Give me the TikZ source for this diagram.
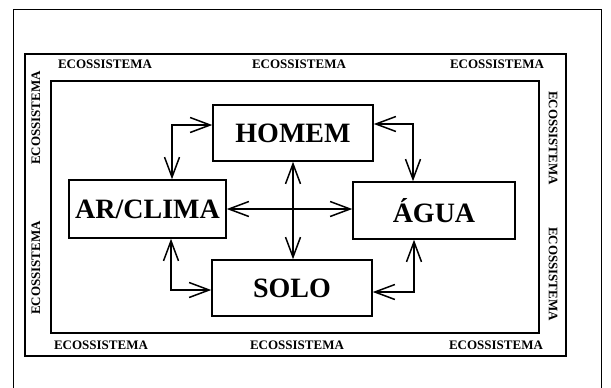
\documentclass[tikz,border=0pt]{standalone}
\usepackage{fontspec}
\setmainfont{Liberation Serif}
\usetikzlibrary{arrows.meta,calc}
\tikzset{
  frame/.style={line width=1.8pt},
  outerframe/.style={line width=0.9pt},
  mainbox/.style={draw, line width=1.5pt, inner sep=0pt, font=\fontsize{28}{32}\selectfont\bfseries},
  eco/.style={inner sep=0pt, font=\fontsize{13}{15}\selectfont\bfseries},
  biarr/.style={line width=1.5pt, {Straight Barb[length=20pt,width=15pt,line width=1.5pt]}-{Straight Barb[length=20pt,width=15pt,line width=1.5pt]}}
}
\begin{document}
\begin{tikzpicture}[x=1pt,y=-1pt]
\useasboundingbox (0,0) rectangle (611,388);
% frames
\draw[outerframe] (13,390) -- (13,9) -- (601,9) -- (601,390);
\draw[frame] (25,54) rectangle (566,356);
\draw[frame] (51,81) rectangle (539,333);
% ecossistema labels
\node[eco] (t1) at (105,64.5) {ECOSSISTEMA};
\node[eco] (t2) at (299,64.5) {ECOSSISTEMA};
\node[eco] (t3) at (497,64.5) {ECOSSISTEMA};
\node[eco] (b1) at (101,345) {ECOSSISTEMA};
\node[eco] (b2) at (297,345) {ECOSSISTEMA};
\node[eco] (b3) at (496,345) {ECOSSISTEMA};
\node[eco,rotate=90] (l1) at (36,118) {ECOSSISTEMA};
\node[eco,rotate=90] (l2) at (36,268) {ECOSSISTEMA};
\node[eco,rotate=-90] (r1) at (553,138) {ECOSSISTEMA};
\node[eco,rotate=-90] (r2) at (553,274) {ECOSSISTEMA};
% main boxes
\node[mainbox, minimum width=160pt, minimum height=56pt] (homem) at (293,133) {HOMEM};
\node[mainbox, minimum width=157pt, minimum height=58pt] (ar) at (147.5,209) {AR/CLIMA};
\node[mainbox, minimum width=162pt, minimum height=57pt] (agua) at (434,210.5) {ÁGUA};
\node[mainbox, minimum width=160pt, minimum height=56pt] (solo) at (292,288) {SOLO};
% connector bends
\coordinate (c1) at (172,125);
\coordinate (c2) at (413,124);
\coordinate (c3) at (171,290);
\coordinate (c4) at (414,292);
\draw[biarr] (homem.west |- c1) -| (ar.north -| c1);
\draw[biarr] (homem.east |- c2) -| (agua.north -| c2);
\draw[biarr] (homem.south) -- (solo.north -| homem.south);
\draw[biarr] (ar.east) -- (agua.west |- ar.east);
\draw[biarr] (ar.south -| c3) |- (solo.west |- c3);
\draw[biarr] (agua.south -| c4) |- (solo.east |- c4);
\end{tikzpicture}
\end{document}
